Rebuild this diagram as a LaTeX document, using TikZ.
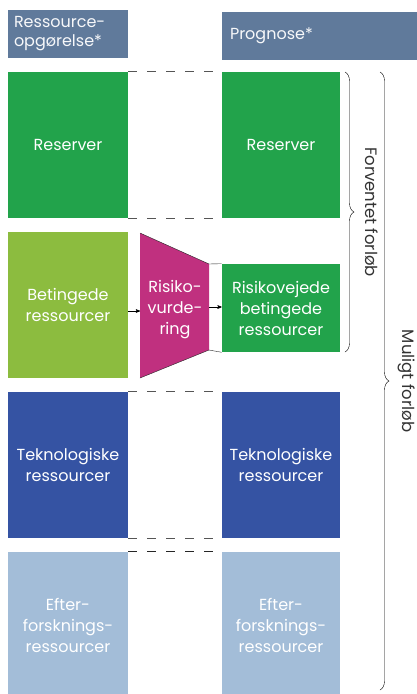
\documentclass[tikz,border=0pt]{standalone}
\usepackage{fontspec}
\setmainfont{Poppins}
\usepackage{tikz}
\usetikzlibrary{positioning,calc}
\usetikzlibrary{arrows,decorations.pathreplacing}

\definecolor{hdrblue}{RGB}{96,122,155}
\definecolor{resgreen}{RGB}{34,163,75}
\definecolor{betgreen}{RGB}{140,188,63}
\definecolor{riskpink}{RGB}{192,48,127}
\definecolor{tekblue}{RGB}{53,83,163}
\definecolor{eftblue}{RGB}{163,189,216}
\definecolor{dashgrey}{RGB}{85,85,85}

\tikzset{
  box/.style={rectangle, inner sep=0pt, minimum width=120pt, minimum height=146pt,
              text=white, align=center, font=\fontsize{16}{21}\selectfont},
  rbox/.style={box, minimum width=118pt},
  hdr/.style={rectangle, fill=hdrblue, inner sep=0pt, text=white!95!hdrblue,
              font=\fontsize{16}{19}\selectfont},
  tie/.style={dashgrey, line width=1.4pt, dash pattern=on 9pt off 10pt},
  br/.style={decorate, decoration={brace, amplitude=9pt}, black, thin},
  side/.style={black!80, font=\fontsize{16.5}{18}\selectfont}
}

\begin{document}
\begin{tikzpicture}[x=1pt, y=-1pt, ->, >=stealth', semithick]

\useasboundingbox (0,0) rectangle (417,694);

\node[hdr, minimum width=120pt, minimum height=48pt, text width=108pt, align=left]
     (hL) at (68,34) {Ressource-\\opgørelse*};
\node[hdr, minimum width=195pt, minimum height=48pt, text width=179pt, align=left]
     (hR) at (319.5,36) {Prognose*};

\node[box, fill=resgreen]  (resL) at (68,145) {Reserver};
\node[rbox, fill=resgreen] (resR) at (281,145) {Reserver};

\node[box, fill=betgreen]  (bet) at (68,305) {Betingede\\ressourcer};
\node[rbox, fill=resgreen, minimum height=88pt] (risk) at (281,308)
     {Risikovejede\\betingede\\ressourcer};

\node[box, fill=tekblue]  (tekL) at (68,465) {Teknologiske\\ressourcer};
\node[rbox, fill=tekblue] (tekR) at (281,465) {Teknologiske\\ressourcer};

\node[box, fill=eftblue]  (eftL) at (68,625) {Efter-\\forsknings-\\ressourcer};
\node[rbox, fill=eftblue] (eftR) at (281,625) {Efter-\\forsknings-\\ressourcer};

\coordinate (tTL) at (140,233);
\coordinate (tTR) at (209,264);
\coordinate (tBR) at (209,350);
\coordinate (tBL) at (140,378);
\fill[riskpink] (tTL) -- (tTR) -- (tBR) -- (tBL) -- cycle;
\draw[-, black!85, thin] (tTL) -- (tTR) -- (risk.north west);
\draw[-, black!85, thin] (tBL) -- (tBR) -- (risk.south west);
\node[box, minimum width=0pt, minimum height=0pt] (rv) at (175,310) {Risiko-\\vurde-\\ring};

\coordinate (inR) at (140,311);
\coordinate (outR) at (209,307);
\draw (bet.east |- inR) -- (inR);
\draw (outR) -- (risk.west |- outR);

\draw[-, tie] (resL.north east) -- (resR.north west);
\draw[-, tie] (resL.south east) -- (resR.south west);
\draw[-, tie] (tekL.north east) -- (tekR.north west);
\draw[-, tie] (tekL.south east) -- (tekR.south west);
\draw[-, tie, black!85] (eftL.north east) -- (eftR.north west);

\draw[-, br] (345,72) -- (345,352)
     node[midway, right=17pt, side, rotate=-90, anchor=south] (fv) {Forventet forløb};
\draw[-, br] (380,72) -- (380,690)
     node[midway, right=15pt, side, rotate=-90, anchor=south] (mf) {Muligt forløb};

\end{tikzpicture}
\end{document}
